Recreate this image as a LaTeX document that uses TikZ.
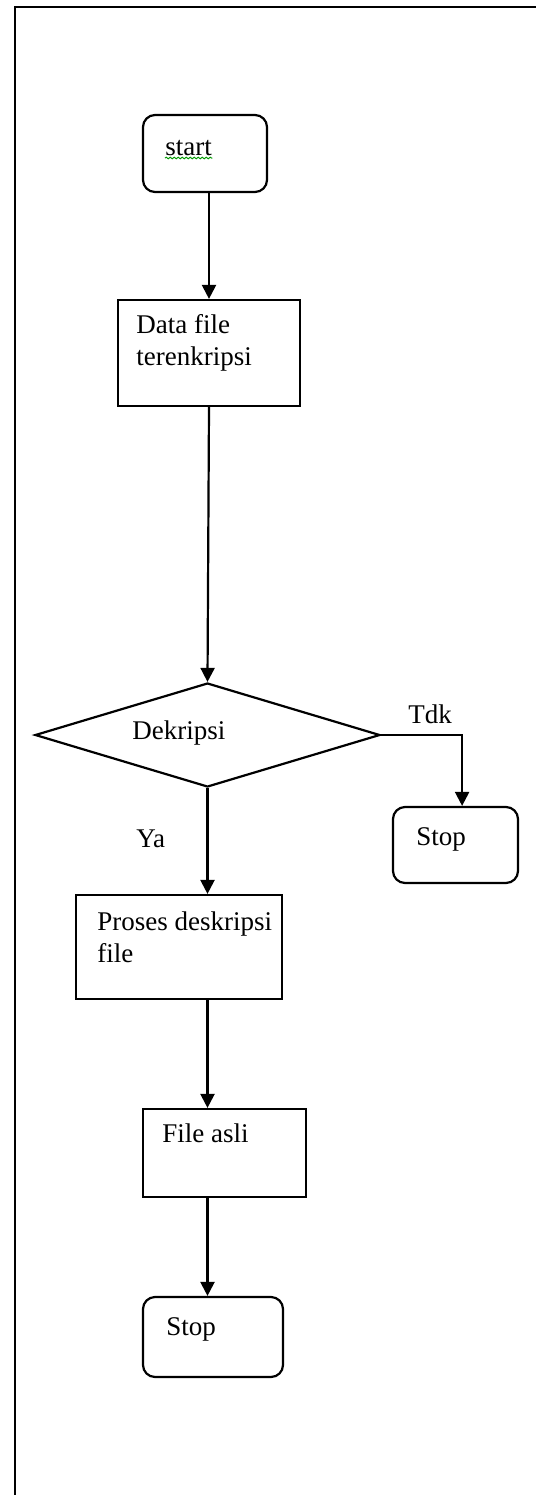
\documentclass[tikz,border=0pt]{standalone}
\usepackage{fontspec}
\setmainfont{Liberation Serif}
\usetikzlibrary{shapes.geometric,arrows.meta,decorations.pathmorphing}
\begin{document}
\begin{tikzpicture}[x=0.5pt,y=-0.5pt,
  every node/.style={font=\fontsize{13.5}{16}\selectfont},
  boxshape/.style={draw,line width=1.1pt,rectangle,inner sep=0pt},
  roundshape/.style={draw,line width=1.1pt,rectangle,rounded corners=6pt,inner sep=0pt},
  decshape/.style={draw,line width=1.1pt,diamond,inner sep=0pt},
  lbl/.style={anchor=base west,inner sep=0pt,align=left},
  arr/.style={line width=1.1pt,-{Triangle[width=7pt,length=7pt]}},
  conn/.style={line width=1.1pt}]
\useasboundingbox (0,0) rectangle (536,1495);
\draw[line width=1.1pt] (15,1495) -- (15,7) -- (536,7);

\node[roundshape,minimum width=62pt,minimum height=38.5pt] (start) at (205,153.5) {};
\node[boxshape,minimum width=91pt,minimum height=53pt] (data) at (209,353) {};
\node[decshape,minimum width=172.5pt,minimum height=52pt] (dec) at (207.5,735) {};
\node[roundshape,minimum width=62.5pt,minimum height=38pt] (stopa) at (455.5,845) {};
\node[boxshape,minimum width=103pt,minimum height=52pt] (proses) at (179,947) {};
\node[boxshape,minimum width=81.5pt,minimum height=44pt] (asli) at (224.5,1153) {};
\node[roundshape,minimum width=70pt,minimum height=40pt] (stopb) at (213,1337) {};

\node[lbl] (tstart) at (165,155) {start};
\draw[green!60!black,line width=0.5pt,decorate,decoration={snake,amplitude=0.4pt,segment length=2pt}]
  ([yshift=-1.5pt]tstart.base west) -- ([yshift=-1.5pt]tstart.base east);
\node[lbl] (tdata) at (136,365) {Data file\\terenkripsi};
\node[lbl] (tdec) at (132,739) {Dekripsi};
\node[lbl] (ttdk) at (408,723) {Tdk};
\node[lbl] (tya) at (136,847) {Ya};
\node[lbl] (tstopa) at (416,845) {Stop};
\node[lbl] (tproses) at (97,962) {Proses deskripsi\\file};
\node[lbl] (tasli) at (162,1142) {File asli};
\node[lbl] (tstopb) at (166,1335) {Stop};

\draw[arr] (start.south -| data.north) -- (data.north);
\draw[arr] (data.south) -- (dec.north);
\draw[arr] (dec.east) -- ++(81,0) coordinate (tdkcorner) -- (tdkcorner |- stopa.north);
\draw[arr] (dec.south) -- (dec.south |- proses.north);
\draw[arr] (dec.south |- proses.south) -- (dec.south |- asli.north);
\draw[arr] (dec.south |- asli.south) -- (dec.south |- stopb.north);
\end{tikzpicture}
\end{document}
